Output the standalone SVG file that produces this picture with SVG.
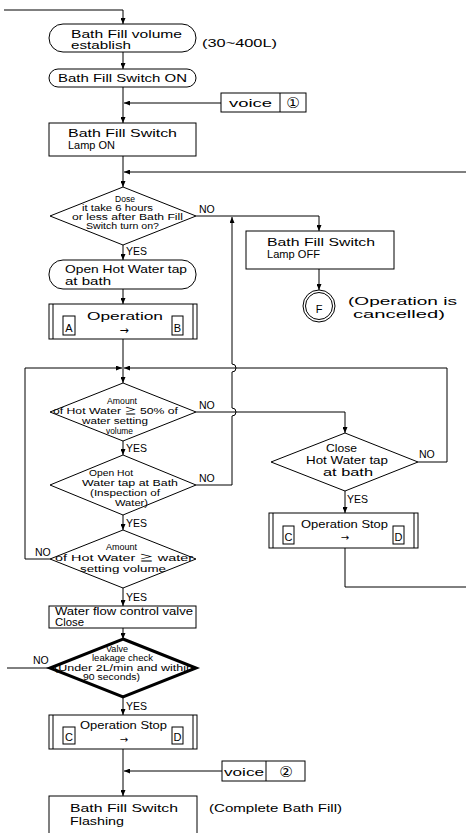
<svg xmlns="http://www.w3.org/2000/svg" width="466" height="833" viewBox="0 0 466 833">
<style>
.ln{stroke:#000;stroke-width:1;fill:none}
.bx{fill:#fff;stroke:#000;stroke-width:1}
.thk{fill:#fff;stroke:#000;stroke-width:3}
.t{font-family:"Liberation Sans","Noto Sans CJK JP",sans-serif;fill:#000;font-size:11px}
.s{font-size:8.5px}
.m{font-size:10.5px}
.c{text-anchor:middle}
.sym{font-family:"DejaVu Sans","Noto Sans CJK JP",sans-serif;fill:#000}
</style>
<defs>
<marker id="ar" markerWidth="6" markerHeight="5" refX="6" refY="2.5" orient="auto" markerUnits="userSpaceOnUse">
<path d="M0,0 L6,2.5 L0,5 z" fill="#000"/>
</marker>
</defs>
<rect width="466" height="833" fill="#fff"/>
<g id="connectors">
<path class="ln" d="M4,10 H123 V24" marker-end="url(#ar)"/>
<path class="ln" d="M123,52 V69" marker-end="url(#ar)"/>
<path class="ln" d="M123,87 V123" marker-end="url(#ar)"/>
<path class="ln" d="M221,103 H124" marker-end="url(#ar)"/>
<path class="ln" d="M123,156 V187" marker-end="url(#ar)"/>
<path class="ln" d="M466,172 H124" marker-end="url(#ar)"/>
<path class="ln" d="M196,216 H319 V231" marker-end="url(#ar)"/>
<path class="ln" d="M319,269 V290" marker-end="url(#ar)"/>
<path class="ln" d="M123,245 V260" marker-end="url(#ar)"/>
<path class="ln" d="M123,289 V304" marker-end="url(#ar)"/>
<path class="ln" d="M123,339 V383" marker-end="url(#ar)"/>
<path class="ln" d="M50,559 H25 V368 H122" marker-end="url(#ar)"/>
<path class="ln" d="M418,462 H447 V368 H124" marker-end="url(#ar)"/>
<path class="ln" d="M196,412 H345 V433" marker-end="url(#ar)"/>
<path class="ln" d="M196,485 H232 V416 A4,4 0 0 0 232,408 V372 A4,4 0 0 0 232,364 V217" marker-end="url(#ar)"/>
<path class="ln" d="M123,441 V455" marker-end="url(#ar)"/>
<path class="ln" d="M123,515 V530" marker-end="url(#ar)"/>
<path class="ln" d="M123,588 V606" marker-end="url(#ar)"/>
<path class="ln" d="M123,628 V639" marker-end="url(#ar)"/>
<path class="ln" d="M7,668 H50"/>
<path class="ln" d="M123,697 V715" marker-end="url(#ar)"/>
<path class="ln" d="M123,749 V796" marker-end="url(#ar)"/>
<path class="ln" d="M222,771 H124" marker-end="url(#ar)"/>
<path class="ln" d="M345,491 V513" marker-end="url(#ar)"/>
<path class="ln" d="M345,548 V587 H466"/>
<text class="t m" x="199" y="213">NO</text>
<text class="t m" x="126" y="255">YES</text>
<text class="t m" x="199" y="409">NO</text>
<text class="t m" x="126" y="452">YES</text>
<text class="t m" x="199" y="482">NO</text>
<text class="t m" x="126" y="527">YES</text>
<text class="t m" x="35" y="556">NO</text>
<text class="t m" x="126" y="601">YES</text>
<text class="t m" x="33" y="664">NO</text>
<text class="t m" x="126" y="710">YES</text>
<text class="t m" x="419" y="458">NO</text>
<text class="t m" x="347" y="503">YES</text>
</g>
<g id="n_volume">
<rect class="bx" x="49" y="24" width="147" height="28" rx="14" ry="14"/>
<text class="t" x="71" y="38" textLength="111" lengthAdjust="spacingAndGlyphs">Bath Fill volume</text>
<text class="t" x="71" y="49" textLength="60" lengthAdjust="spacingAndGlyphs">establish</text>
<text class="t" x="202" y="47" font-size="12.5" textLength="75" lengthAdjust="spacingAndGlyphs">(30~400L)</text>
</g>
<g id="n_switch_on">
<rect class="bx" x="49" y="69" width="147" height="18" rx="9" ry="9"/>
<text class="t" x="58" y="82" textLength="129" lengthAdjust="spacingAndGlyphs">Bath Fill Switch ON</text>
</g>
<g id="n_voice1">
<rect class="bx" x="221" y="93" width="85" height="19"/>
<line class="ln" x1="280" y1="93" x2="280" y2="112"/>
<text class="t" x="229" y="107" font-size="12.5" textLength="43" lengthAdjust="spacingAndGlyphs">voice</text>
<text class="sym c" x="293" y="108" font-size="15">①</text>
</g>
<g id="n_lamp_on">
<rect class="bx" x="49" y="123" width="147" height="33"/>
<text class="t" x="68" y="137" textLength="109" lengthAdjust="spacingAndGlyphs">Bath Fill Switch</text>
<text class="t" x="68" y="149" textLength="47" lengthAdjust="spacingAndGlyphs">Lamp ON</text>
</g>
<g id="n_d1">
<polygon class="bx" points="123,187 196,216 123,245 50,216"/>
<text class="t s" x="115" y="202" textLength="20" lengthAdjust="spacingAndGlyphs">Dose</text>
<text class="t s" x="82" y="211" textLength="71" lengthAdjust="spacingAndGlyphs">it take 6 hours</text>
<text class="t s" x="72" y="220" textLength="111" lengthAdjust="spacingAndGlyphs">or less after Bath Fill</text>
<text class="t s" x="86" y="229" textLength="73" lengthAdjust="spacingAndGlyphs">Switch turn on?</text>
</g>
<g id="n_lamp_off">
<rect class="bx" x="246" y="231" width="148" height="38"/>
<text class="t" x="267" y="246" textLength="108" lengthAdjust="spacingAndGlyphs">Bath Fill Switch</text>
<text class="t" x="267" y="258" textLength="53" lengthAdjust="spacingAndGlyphs">Lamp OFF</text>
</g>
<g id="n_F">
<circle class="bx" cx="319" cy="306" r="16"/>
<circle class="ln" cx="319" cy="306" r="13.5"/>
<text class="t c" x="319" y="313" font-size="20">F</text>
<text class="t" x="348" y="305" font-size="12.5" textLength="109" lengthAdjust="spacingAndGlyphs">(Operation is</text>
<text class="t" x="353" y="318" font-size="12.5" textLength="92" lengthAdjust="spacingAndGlyphs">cancelled)</text>
</g>
<g id="n_open_tap">
<rect class="bx" x="49" y="260" width="147" height="29" rx="14" ry="14"/>
<text class="t" x="65" y="273" textLength="122" lengthAdjust="spacingAndGlyphs">Open Hot Water tap</text>
<text class="t" x="65" y="285" textLength="46" lengthAdjust="spacingAndGlyphs">at bath</text>
</g>
<g id="n_op_ab">
<rect class="bx" x="49" y="304" width="148" height="35"/>
<line class="ln" x1="53" y1="304" x2="53" y2="339"/>
<line class="ln" x1="193" y1="304" x2="193" y2="339"/>
<text class="t" x="87" y="320" font-size="14" textLength="76" lengthAdjust="spacingAndGlyphs">Operation</text>
<text class="sym c" x="124" y="334" font-size="11">→</text>
<rect class="bx" x="63" y="316" width="12" height="19"/>
<text class="t c" x="69" y="332" font-size="14">A</text>
<rect class="bx" x="172" y="316" width="11" height="19"/>
<text class="t c" x="177.5" y="332" font-size="14">B</text>
</g>
<g id="n_d2">
<polygon class="bx" points="123,383 196,412 123,441 50,412"/>
<text class="t s" x="107" y="404" textLength="30" lengthAdjust="spacingAndGlyphs">Amount</text>
<text class="t s" x="53" y="414" textLength="125" lengthAdjust="spacingAndGlyphs">of Hot Water ≧ 50% of</text>
<text class="t s" x="82" y="424" textLength="66" lengthAdjust="spacingAndGlyphs">water setting</text>
<text class="t s" x="106" y="434" textLength="27" lengthAdjust="spacingAndGlyphs">volume</text>
</g>
<g id="n_d3">
<polygon class="bx" points="123,455 196,485 123,515 50,485"/>
<text class="t s" x="89" y="476" textLength="44" lengthAdjust="spacingAndGlyphs">Open Hot</text>
<text class="t s" x="82" y="486" textLength="96" lengthAdjust="spacingAndGlyphs">Water tap at Bath</text>
<text class="t s" x="90" y="496" textLength="70" lengthAdjust="spacingAndGlyphs">(Inspection of</text>
<text class="t s" x="115" y="506" textLength="33" lengthAdjust="spacingAndGlyphs">Water)</text>
</g>
<g id="n_d4">
<polygon class="bx" points="123,530 196,559 123,588 50,559"/>
<text class="t s" x="106" y="550" textLength="31" lengthAdjust="spacingAndGlyphs">Amount</text>
<text class="t s" x="55" y="561" textLength="138" lengthAdjust="spacingAndGlyphs">of Hot Water ≧ water</text>
<text class="t s" x="80" y="572" textLength="86" lengthAdjust="spacingAndGlyphs">setting volume</text>
</g>
<g id="n_close">
<polygon class="bx" points="345,433 418,462 345,491 271,462"/>
<text class="t" x="326" y="452" textLength="31" lengthAdjust="spacingAndGlyphs">Close</text>
<text class="t" x="306" y="464" textLength="82" lengthAdjust="spacingAndGlyphs">Hot Water tap</text>
<text class="t" x="323" y="476" textLength="50" lengthAdjust="spacingAndGlyphs">at bath</text>
</g>
<g id="n_stop_right">
<rect class="bx" x="269" y="513" width="149" height="35"/>
<line class="ln" x1="273" y1="513" x2="273" y2="548"/>
<line class="ln" x1="414" y1="513" x2="414" y2="548"/>
<text class="t m" x="301" y="528" textLength="87" lengthAdjust="spacingAndGlyphs">Operation Stop</text>
<text class="sym c" x="345" y="541" font-size="10">→</text>
<rect class="bx" x="283" y="526" width="11" height="18"/>
<text class="t c" x="288.5" y="541" font-size="13">C</text>
<rect class="bx" x="393" y="526" width="11" height="18"/>
<text class="t c" x="398.5" y="541" font-size="13">D</text>
</g>
<g id="n_valve_close">
<rect class="bx" x="49" y="606" width="147" height="22"/>
<text class="t" x="55" y="615" font-size="9" textLength="138" lengthAdjust="spacingAndGlyphs">Water flow control valve</text>
<text class="t" x="55" y="626" font-size="9" textLength="29" lengthAdjust="spacingAndGlyphs">Close</text>
</g>
<g id="n_leak">
<polygon class="thk" points="123,639 196,668 123,697 50,668"/>
<text class="t s" x="106" y="652" textLength="22" lengthAdjust="spacingAndGlyphs">Valve</text>
<text class="t s" x="92" y="661" textLength="61" lengthAdjust="spacingAndGlyphs">leakage check</text>
<text class="t s" x="54" y="671" textLength="139" lengthAdjust="spacingAndGlyphs">(Under 2L/min and within</text>
<text class="t s" x="83" y="680" textLength="57" lengthAdjust="spacingAndGlyphs">90 seconds)</text>
</g>
<g id="n_stop_bottom">
<rect class="bx" x="49" y="715" width="148" height="34"/>
<line class="ln" x1="53" y1="715" x2="53" y2="749"/>
<line class="ln" x1="193" y1="715" x2="193" y2="749"/>
<text class="t m" x="80" y="729" textLength="87" lengthAdjust="spacingAndGlyphs">Operation Stop</text>
<text class="sym c" x="124" y="743" font-size="10">→</text>
<rect class="bx" x="63" y="727" width="12" height="17"/>
<text class="t c" x="69" y="741" font-size="13">C</text>
<rect class="bx" x="172" y="727" width="11" height="17"/>
<text class="t c" x="177.5" y="741" font-size="13">D</text>
</g>
<g id="n_voice2">
<rect class="bx" x="222" y="761" width="83" height="20"/>
<line class="ln" x1="266" y1="761" x2="266" y2="781"/>
<text class="t" x="224" y="776" font-size="12.5" textLength="40" lengthAdjust="spacingAndGlyphs">voice</text>
<text class="sym c" x="286" y="777" font-size="15">②</text>
</g>
<g id="n_flashing">
<rect class="bx" x="49" y="796" width="148" height="50"/>
<text class="t" x="70" y="812" textLength="108" lengthAdjust="spacingAndGlyphs">Bath Fill Switch</text>
<text class="t" x="70" y="825" textLength="54" lengthAdjust="spacingAndGlyphs">Flashing</text>
<text class="t" x="209" y="812" textLength="133" lengthAdjust="spacingAndGlyphs">(Complete Bath Fill)</text>
</g>
</svg>
